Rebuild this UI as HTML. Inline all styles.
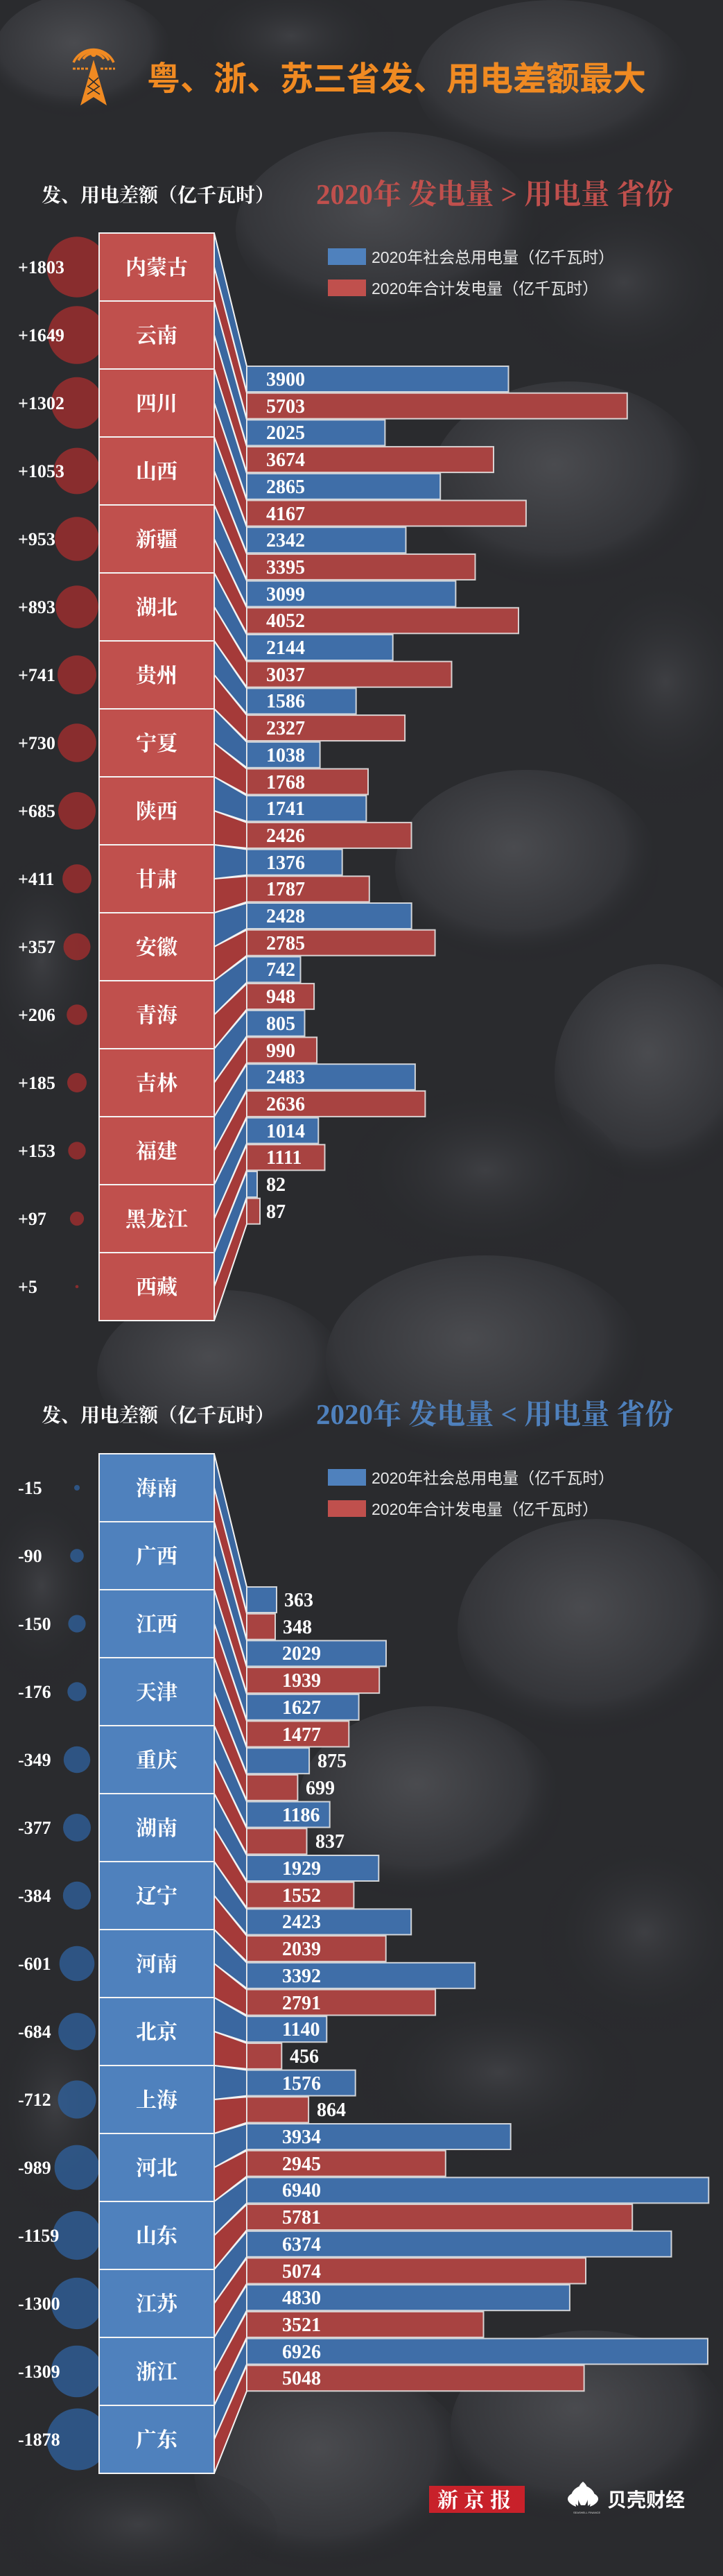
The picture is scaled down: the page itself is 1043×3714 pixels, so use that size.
<!DOCTYPE html>
<html><head><meta charset="utf-8">
<style>
html,body{margin:0;padding:0;background:#2c2d30;}
svg{display:block;}
.pv{font-family:"Liberation Serif","Noto Serif CJK SC",serif;font-weight:bold;font-size:30px;fill:#fff;text-anchor:middle;}
.df{font-family:"Liberation Serif",serif;font-weight:bold;font-size:26px;fill:#fff;}
.nm{font-family:"Liberation Serif",serif;font-weight:bold;font-size:28px;fill:#fff;}
.lg{font-family:"Liberation Sans","Noto Sans CJK SC",sans-serif;font-size:23px;fill:#e8e8e8;}
.hd{font-family:"Liberation Serif","Noto Serif CJK SC",serif;font-weight:bold;font-size:28px;fill:#fff;}
.st{font-family:"Liberation Serif","Noto Serif CJK SC",serif;font-weight:bold;font-size:41px;}
.bb{fill:#3f6ea8;stroke:rgba(235,235,235,0.85);stroke-width:2;}
.rb{fill:#a84341;stroke:rgba(235,235,235,0.85);stroke-width:2;}
.bn{fill:#3a67a0;stroke:#f2f2f2;stroke-width:2;}
.rn{fill:#a53a39;stroke:#f2f2f2;stroke-width:2;}
.rbox{fill:#c0504d;stroke:#f4f4f4;stroke-width:2;}
.bbox{fill:#4f81bd;stroke:#f4f4f4;stroke-width:2;}
.rc{fill:#9a2e2e;opacity:0.85;}
.bc{fill:#2f5f98;opacity:0.8;}
</style></head>
<body>
<svg width="1043" height="3714" viewBox="0 0 1043 3714" xmlns="http://www.w3.org/2000/svg">
<defs>
<radialGradient id="rk" cx="45%" cy="40%" r="60%">
<stop offset="0" stop-color="#4a4b4f"/><stop offset="0.7" stop-color="#35363a"/><stop offset="1" stop-color="#242528" stop-opacity="0"/>
</radialGradient>
<radialGradient id="rk2" cx="50%" cy="45%" r="55%">
<stop offset="0" stop-color="#3e3f43"/><stop offset="1" stop-color="#232427" stop-opacity="0"/>
</radialGradient>
</defs>
<rect width="1043" height="3714" fill="#2a2b2e"/>
<g>
<ellipse cx="120" cy="80" rx="130" ry="90" fill="url(#rk)"/>
<ellipse cx="420" cy="60" rx="150" ry="80" fill="url(#rk2)"/>
<ellipse cx="800" cy="120" rx="200" ry="120" fill="url(#rk)"/>
<ellipse cx="560" cy="330" rx="220" ry="140" fill="url(#rk)"/>
<ellipse cx="900" cy="420" rx="160" ry="130" fill="url(#rk2)"/>
<ellipse cx="820" cy="700" rx="200" ry="150" fill="url(#rk)"/>
<ellipse cx="960" cy="1000" rx="140" ry="170" fill="url(#rk2)"/>
<ellipse cx="760" cy="1250" rx="190" ry="140" fill="url(#rk)"/>
<ellipse cx="950" cy="1550" rx="150" ry="160" fill="url(#rk)"/>
<ellipse cx="700" cy="1700" rx="200" ry="130" fill="url(#rk2)"/>
<ellipse cx="320" cy="1980" rx="180" ry="120" fill="url(#rk)"/>
<ellipse cx="700" cy="1960" rx="230" ry="150" fill="url(#rk)"/>
<ellipse cx="60" cy="1400" rx="90" ry="160" fill="url(#rk2)"/>
<ellipse cx="60" cy="2300" rx="90" ry="140" fill="url(#rk2)"/>
<ellipse cx="860" cy="2350" rx="200" ry="160" fill="url(#rk)"/>
<ellipse cx="620" cy="2600" rx="190" ry="140" fill="url(#rk)"/>
<ellipse cx="930" cy="2800" rx="150" ry="140" fill="url(#rk2)"/>
<ellipse cx="720" cy="3000" rx="200" ry="120" fill="url(#rk2)"/>
<ellipse cx="80" cy="3050" rx="90" ry="150" fill="url(#rk2)"/>
<ellipse cx="480" cy="3560" rx="200" ry="150" fill="url(#rk)"/>
<ellipse cx="850" cy="3500" rx="200" ry="140" fill="url(#rk)"/>
<ellipse cx="200" cy="3650" rx="200" ry="100" fill="url(#rk2)"/>
</g>

<!-- icon -->
<g fill="none" stroke="#f08a22" stroke-width="3.5">
<path d="M120,85 A18,18 0 0 1 150,85"/>
<path d="M113,87 A25,25 0 0 1 157,87"/>
<path d="M106,90 A32,32 0 0 1 164,90"/>
</g>
<circle cx="135" cy="78" r="4" fill="#f08a22"/>
<g stroke="#f08a22" stroke-width="3" stroke-dasharray="4,2"><line x1="105" y1="99" x2="127" y2="99"/><line x1="145" y1="99" x2="166" y2="99"/></g>
<path d="M135,86 L154,152 L135,140 L116,152 Z" fill="#f08a22"/>
<g stroke="#2a2b2e" stroke-width="1.6"><line x1="128" y1="112" x2="142" y2="124"/><line x1="142" y1="112" x2="128" y2="124"/><line x1="126" y1="124" x2="144" y2="136"/><line x1="144" y1="124" x2="126" y2="136"/></g>
<text x="212" y="130" style="font-family:'Liberation Sans','Noto Sans CJK SC',sans-serif;font-weight:bold;font-size:48px;fill:#f08a22;">粤、浙、苏三省发、用电差额最大</text>

<!-- TOP SECTION -->
<text class="hd" x="60" y="291">发、用电差额（亿千瓦时）</text>
<text class="st" x="456" y="294" fill="#c0504d">2020年 发电量 &gt; 用电量 省份</text>
<rect x="473" y="358" width="55" height="24" fill="#4f81bd"/><text class="lg" x="536" y="379">2020年社会总用电量（亿千瓦时）</text>
<rect x="473" y="403" width="55" height="24" fill="#c0504d"/><text class="lg" x="536" y="424">2020年合计发电量（亿千瓦时）</text>

<g>
<circle class="rc" cx="111" cy="385" r="43.7"/><circle class="rc" cx="111" cy="483" r="41.8"/><circle class="rc" cx="111" cy="581" r="37.2"/><circle class="rc" cx="111" cy="679" r="33.4"/><circle class="rc" cx="111" cy="777" r="31.8"/><circle class="rc" cx="111" cy="875" r="30.8"/><circle class="rc" cx="111" cy="973" r="28"/><circle class="rc" cx="111" cy="1071" r="27.8"/><circle class="rc" cx="111" cy="1169" r="27"/><circle class="rc" cx="111" cy="1267" r="20.9"/><circle class="rc" cx="111" cy="1365" r="19.5"/><circle class="rc" cx="111" cy="1463" r="14.8"/><circle class="rc" cx="111" cy="1561" r="14"/><circle class="rc" cx="111" cy="1659" r="12.7"/><circle class="rc" cx="111" cy="1757" r="10.1"/><circle class="rc" cx="111" cy="1855" r="2.3"/>
</g>
<g>
<text class="df" x="26" y="394">+1803</text><text class="df" x="26" y="492">+1649</text><text class="df" x="26" y="590">+1302</text><text class="df" x="26" y="688">+1053</text><text class="df" x="26" y="786">+953</text><text class="df" x="26" y="884">+893</text><text class="df" x="26" y="982">+741</text><text class="df" x="26" y="1080">+730</text><text class="df" x="26" y="1178">+685</text><text class="df" x="26" y="1276">+411</text><text class="df" x="26" y="1374">+357</text><text class="df" x="26" y="1472">+206</text><text class="df" x="26" y="1570">+185</text><text class="df" x="26" y="1668">+153</text><text class="df" x="26" y="1766">+97</text><text class="df" x="26" y="1864">+5</text>
</g>
<g>
<rect class="rbox" x="143" y="336" width="166" height="98"/><rect class="rbox" x="143" y="434" width="166" height="98"/><rect class="rbox" x="143" y="532" width="166" height="98"/><rect class="rbox" x="143" y="630" width="166" height="98"/><rect class="rbox" x="143" y="728" width="166" height="98"/><rect class="rbox" x="143" y="826" width="166" height="98"/><rect class="rbox" x="143" y="924" width="166" height="98"/><rect class="rbox" x="143" y="1022" width="166" height="98"/><rect class="rbox" x="143" y="1120" width="166" height="98"/><rect class="rbox" x="143" y="1218" width="166" height="98"/><rect class="rbox" x="143" y="1316" width="166" height="98"/><rect class="rbox" x="143" y="1414" width="166" height="98"/><rect class="rbox" x="143" y="1512" width="166" height="98"/><rect class="rbox" x="143" y="1610" width="166" height="98"/><rect class="rbox" x="143" y="1708" width="166" height="98"/><rect class="rbox" x="143" y="1806" width="166" height="98"/>
</g>
<g>
<text class="pv" x="226" y="396">内蒙古</text><text class="pv" x="226" y="494">云南</text><text class="pv" x="226" y="592">四川</text><text class="pv" x="226" y="690">山西</text><text class="pv" x="226" y="788">新疆</text><text class="pv" x="226" y="886">湖北</text><text class="pv" x="226" y="984">贵州</text><text class="pv" x="226" y="1082">宁夏</text><text class="pv" x="226" y="1180">陕西</text><text class="pv" x="226" y="1278">甘肃</text><text class="pv" x="226" y="1376">安徽</text><text class="pv" x="226" y="1474">青海</text><text class="pv" x="226" y="1572">吉林</text><text class="pv" x="226" y="1670">福建</text><text class="pv" x="226" y="1768">黑龙江</text><text class="pv" x="226" y="1866">西藏</text>
</g>
<g>
<polygon class="bn" points="309,336 356,528 356,565 309,385"/><polygon class="rn" points="309,385 356,566.7 356,603.7 309,434"/>
<polygon class="bn" points="309,434 356,605.4 356,642.4 309,483"/><polygon class="rn" points="309,483 356,644.1 356,681.1 309,532"/>
<polygon class="bn" points="309,532 356,682.8 356,719.8 309,581"/><polygon class="rn" points="309,581 356,721.5 356,758.5 309,630"/>
<polygon class="bn" points="309,630 356,760.2 356,797.2 309,679"/><polygon class="rn" points="309,679 356,798.9 356,835.9 309,728"/>
<polygon class="bn" points="309,728 356,837.6 356,874.6 309,777"/><polygon class="rn" points="309,777 356,876.3 356,913.3 309,826"/>
<polygon class="bn" points="309,826 356,915 356,952 309,875"/><polygon class="rn" points="309,875 356,953.7 356,990.7 309,924"/>
<polygon class="bn" points="309,924 356,992.4 356,1029.4 309,973"/><polygon class="rn" points="309,973 356,1031.1 356,1068.1 309,1022"/>
<polygon class="bn" points="309,1022 356,1069.8 356,1106.8 309,1071"/><polygon class="rn" points="309,1071 356,1108.5 356,1145.5 309,1120"/>
<polygon class="bn" points="309,1120 356,1147.2 356,1184.2 309,1169"/><polygon class="rn" points="309,1169 356,1185.9 356,1222.9 309,1218"/>
<polygon class="bn" points="309,1218 356,1224.6 356,1261.6 309,1267"/><polygon class="rn" points="309,1267 356,1263.3 356,1300.3 309,1316"/>
<polygon class="bn" points="309,1316 356,1302 356,1339 309,1365"/><polygon class="rn" points="309,1365 356,1340.7 356,1377.7 309,1414"/>
<polygon class="bn" points="309,1414 356,1379.4 356,1416.4 309,1463"/><polygon class="rn" points="309,1463 356,1418.1 356,1455.1 309,1512"/>
<polygon class="bn" points="309,1512 356,1456.8 356,1493.8 309,1561"/><polygon class="rn" points="309,1561 356,1495.5 356,1532.5 309,1610"/>
<polygon class="bn" points="309,1610 356,1534.2 356,1571.2 309,1659"/><polygon class="rn" points="309,1659 356,1572.9 356,1609.9 309,1708"/>
<polygon class="bn" points="309,1708 356,1611.6 356,1648.6 309,1757"/><polygon class="rn" points="309,1757 356,1650.3 356,1687.3 309,1806"/>
<polygon class="bn" points="309,1806 356,1689 356,1726 309,1855"/><polygon class="rn" points="309,1855 356,1727.7 356,1764.7 309,1904"/>
</g>
<g>
<rect class="bb" x="356" y="528" width="377.5" height="37"/><rect class="rb" x="356" y="566.7" width="548.8" height="37"/>
<rect class="bb" x="356" y="605.4" width="199.4" height="37"/><rect class="rb" x="356" y="644.1" width="356" height="37"/>
<rect class="bb" x="356" y="682.8" width="279.2" height="37"/><rect class="rb" x="356" y="721.5" width="402.9" height="37"/>
<rect class="bb" x="356" y="760.2" width="229.5" height="37"/><rect class="rb" x="356" y="798.9" width="329.5" height="37"/>
<rect class="bb" x="356" y="837.6" width="301.4" height="37"/><rect class="rb" x="356" y="876.3" width="392" height="37"/>
<rect class="bb" x="356" y="915" width="210.7" height="37"/><rect class="rb" x="356" y="953.7" width="295.5" height="37"/>
<rect class="bb" x="356" y="992.4" width="157.7" height="37"/><rect class="rb" x="356" y="1031.1" width="228.1" height="37"/>
<rect class="bb" x="356" y="1069.8" width="105.6" height="37"/><rect class="rb" x="356" y="1108.5" width="175" height="37"/>
<rect class="bb" x="356" y="1147.2" width="172.4" height="37"/><rect class="rb" x="356" y="1185.9" width="237.5" height="37"/>
<rect class="bb" x="356" y="1224.6" width="137.7" height="37"/><rect class="rb" x="356" y="1263.3" width="176.8" height="37"/>
<rect class="bb" x="356" y="1302" width="237.7" height="37"/><rect class="rb" x="356" y="1340.7" width="271.6" height="37"/>
<rect class="bb" x="356" y="1379.4" width="77.5" height="37"/><rect class="rb" x="356" y="1418.1" width="97.1" height="37"/>
<rect class="bb" x="356" y="1456.8" width="83.5" height="37"/><rect class="rb" x="356" y="1495.5" width="101.1" height="37"/>
<rect class="bb" x="356" y="1534.2" width="242.9" height="37"/><rect class="rb" x="356" y="1572.9" width="257.4" height="37"/>
<rect class="bb" x="356" y="1611.6" width="103.3" height="37"/><rect class="rb" x="356" y="1650.3" width="112.5" height="37"/>
<rect class="bb" x="356" y="1689" width="15" height="37"/><rect class="rb" x="356" y="1727.7" width="19" height="37"/>
</g>
<g>
<text class="nm" x="384" y="556">3900</text><text class="nm" x="384" y="595">5703</text>
<text class="nm" x="384" y="633">2025</text><text class="nm" x="384" y="672">3674</text>
<text class="nm" x="384" y="711">2865</text><text class="nm" x="384" y="750">4167</text>
<text class="nm" x="384" y="788">2342</text><text class="nm" x="384" y="827">3395</text>
<text class="nm" x="384" y="866">3099</text><text class="nm" x="384" y="904">4052</text>
<text class="nm" x="384" y="943">2144</text><text class="nm" x="384" y="982">3037</text>
<text class="nm" x="384" y="1020">1586</text><text class="nm" x="384" y="1059">2327</text>
<text class="nm" x="384" y="1098">1038</text><text class="nm" x="384" y="1137">1768</text>
<text class="nm" x="384" y="1175">1741</text><text class="nm" x="384" y="1214">2426</text>
<text class="nm" x="384" y="1253">1376</text><text class="nm" x="384" y="1291">1787</text>
<text class="nm" x="384" y="1330">2428</text><text class="nm" x="384" y="1369">2785</text>
<text class="nm" x="384" y="1407">742</text><text class="nm" x="384" y="1446">948</text>
<text class="nm" x="384" y="1485">805</text><text class="nm" x="384" y="1524">990</text>
<text class="nm" x="384" y="1562">2483</text><text class="nm" x="384" y="1601">2636</text>
<text class="nm" x="384" y="1640">1014</text><text class="nm" x="384" y="1678">1111</text>
<text class="nm" x="384" y="1717">82</text><text class="nm" x="384" y="1756">87</text>
</g>

<!-- BOTTOM SECTION -->
<text class="hd" x="60" y="2050">发、用电差额（亿千瓦时）</text>
<text class="st" x="456" y="2053" fill="#4f81bd">2020年 发电量 &lt; 用电量 省份</text>
<rect x="473" y="2118" width="55" height="24" fill="#4f81bd"/><text class="lg" x="536" y="2139">2020年社会总用电量（亿千瓦时）</text>
<rect x="473" y="2163" width="55" height="24" fill="#c0504d"/><text class="lg" x="536" y="2184">2020年合计发电量（亿千瓦时）</text>

<g>
<circle class="bc" cx="111" cy="2145" r="4"/><circle class="bc" cx="111" cy="2243" r="9.8"/><circle class="bc" cx="111" cy="2341" r="12.6"/><circle class="bc" cx="111" cy="2439" r="13.7"/><circle class="bc" cx="111" cy="2537" r="19.2"/><circle class="bc" cx="111" cy="2635" r="20"/><circle class="bc" cx="111" cy="2733" r="20.2"/><circle class="bc" cx="111" cy="2831" r="25.3"/><circle class="bc" cx="111" cy="2929" r="26.9"/><circle class="bc" cx="111" cy="3027" r="27.5"/><circle class="bc" cx="111" cy="3125" r="32.4"/><circle class="bc" cx="111" cy="3223" r="35.1"/><circle class="bc" cx="111" cy="3321" r="37.1"/><circle class="bc" cx="111" cy="3419" r="37.3"/><circle class="bc" cx="112" cy="3517" r="44.6"/>
</g>
<g>
<text class="df" x="26" y="2154">-15</text><text class="df" x="26" y="2252">-90</text><text class="df" x="26" y="2350">-150</text><text class="df" x="26" y="2448">-176</text><text class="df" x="26" y="2546">-349</text><text class="df" x="26" y="2644">-377</text><text class="df" x="26" y="2742">-384</text><text class="df" x="26" y="2840">-601</text><text class="df" x="26" y="2938">-684</text><text class="df" x="26" y="3036">-712</text><text class="df" x="26" y="3134">-989</text><text class="df" x="26" y="3232">-1159</text><text class="df" x="26" y="3330">-1300</text><text class="df" x="26" y="3428">-1309</text><text class="df" x="26" y="3526">-1878</text>
</g>
<g>
<rect class="bbox" x="143" y="2096" width="166" height="98"/><rect class="bbox" x="143" y="2194" width="166" height="98"/><rect class="bbox" x="143" y="2292" width="166" height="98"/><rect class="bbox" x="143" y="2390" width="166" height="98"/><rect class="bbox" x="143" y="2488" width="166" height="98"/><rect class="bbox" x="143" y="2586" width="166" height="98"/><rect class="bbox" x="143" y="2684" width="166" height="98"/><rect class="bbox" x="143" y="2782" width="166" height="98"/><rect class="bbox" x="143" y="2880" width="166" height="98"/><rect class="bbox" x="143" y="2978" width="166" height="98"/><rect class="bbox" x="143" y="3076" width="166" height="98"/><rect class="bbox" x="143" y="3174" width="166" height="98"/><rect class="bbox" x="143" y="3272" width="166" height="98"/><rect class="bbox" x="143" y="3370" width="166" height="98"/><rect class="bbox" x="143" y="3468" width="166" height="98"/>
</g>
<g>
<text class="pv" x="226" y="2156">海南</text><text class="pv" x="226" y="2254">广西</text><text class="pv" x="226" y="2352">江西</text><text class="pv" x="226" y="2450">天津</text><text class="pv" x="226" y="2548">重庆</text><text class="pv" x="226" y="2646">湖南</text><text class="pv" x="226" y="2744">辽宁</text><text class="pv" x="226" y="2842">河南</text><text class="pv" x="226" y="2940">北京</text><text class="pv" x="226" y="3038">上海</text><text class="pv" x="226" y="3136">河北</text><text class="pv" x="226" y="3234">山东</text><text class="pv" x="226" y="3332">江苏</text><text class="pv" x="226" y="3430">浙江</text><text class="pv" x="226" y="3528">广东</text>
</g>
<g>
<polygon class="bn" points="309,2096 356,2288 356,2325 309,2145"/><polygon class="rn" points="309,2145 356,2326.7 356,2363.7 309,2194"/>
<polygon class="bn" points="309,2194 356,2365.4 356,2402.4 309,2243"/><polygon class="rn" points="309,2243 356,2404.1 356,2441.1 309,2292"/>
<polygon class="bn" points="309,2292 356,2442.8 356,2479.8 309,2341"/><polygon class="rn" points="309,2341 356,2481.5 356,2518.5 309,2390"/>
<polygon class="bn" points="309,2390 356,2520.2 356,2557.2 309,2439"/><polygon class="rn" points="309,2439 356,2558.9 356,2595.9 309,2488"/>
<polygon class="bn" points="309,2488 356,2597.6 356,2634.6 309,2537"/><polygon class="rn" points="309,2537 356,2636.3 356,2673.3 309,2586"/>
<polygon class="bn" points="309,2586 356,2675 356,2712 309,2635"/><polygon class="rn" points="309,2635 356,2713.7 356,2750.7 309,2684"/>
<polygon class="bn" points="309,2684 356,2752.4 356,2789.4 309,2733"/><polygon class="rn" points="309,2733 356,2791.1 356,2828.1 309,2782"/>
<polygon class="bn" points="309,2782 356,2829.8 356,2866.8 309,2831"/><polygon class="rn" points="309,2831 356,2868.5 356,2905.5 309,2880"/>
<polygon class="bn" points="309,2880 356,2907.2 356,2944.2 309,2929"/><polygon class="rn" points="309,2929 356,2945.9 356,2982.9 309,2978"/>
<polygon class="bn" points="309,2978 356,2984.6 356,3021.6 309,3027"/><polygon class="rn" points="309,3027 356,3023.3 356,3060.3 309,3076"/>
<polygon class="bn" points="309,3076 356,3062 356,3099 309,3125"/><polygon class="rn" points="309,3125 356,3100.7 356,3137.7 309,3174"/>
<polygon class="bn" points="309,3174 356,3139.4 356,3176.4 309,3223"/><polygon class="rn" points="309,3223 356,3178.1 356,3215.1 309,3272"/>
<polygon class="bn" points="309,3272 356,3216.8 356,3253.8 309,3321"/><polygon class="rn" points="309,3321 356,3255.5 356,3292.5 309,3370"/>
<polygon class="bn" points="309,3370 356,3294.2 356,3331.2 309,3419"/><polygon class="rn" points="309,3419 356,3332.9 356,3369.9 309,3468"/>
<polygon class="bn" points="309,3468 356,3371.6 356,3408.6 309,3517"/><polygon class="rn" points="309,3517 356,3410.3 356,3447.3 309,3566"/>
</g>
<g>
<rect class="bb" x="356" y="2288" width="43" height="37"/><rect class="rb" x="356" y="2326.7" width="41" height="37"/>
<rect class="bb" x="356" y="2365.4" width="201" height="37"/><rect class="rb" x="356" y="2404.1" width="191.2" height="37"/>
<rect class="bb" x="356" y="2442.8" width="161.6" height="37"/><rect class="rb" x="356" y="2481.5" width="147.3" height="37"/>
<rect class="bb" x="356" y="2520.2" width="90.1" height="37"/><rect class="rb" x="356" y="2558.9" width="73.4" height="37"/>
<rect class="bb" x="356" y="2597.6" width="119.7" height="37"/><rect class="rb" x="356" y="2636.3" width="86.5" height="37"/>
<rect class="bb" x="356" y="2675" width="190.3" height="37"/><rect class="rb" x="356" y="2713.7" width="154.4" height="37"/>
<rect class="bb" x="356" y="2752.4" width="237.2" height="37"/><rect class="rb" x="356" y="2791.1" width="200.7" height="37"/>
<rect class="bb" x="356" y="2829.8" width="329.2" height="37"/><rect class="rb" x="356" y="2868.5" width="272.1" height="37"/>
<rect class="bb" x="356" y="2907.2" width="115.3" height="37"/><rect class="rb" x="356" y="2945.9" width="50.3" height="37"/>
<rect class="bb" x="356" y="2984.6" width="156.7" height="37"/><rect class="rb" x="356" y="3023.3" width="89.1" height="37"/>
<rect class="bb" x="356" y="3062" width="380.7" height="37"/><rect class="rb" x="356" y="3100.7" width="286.8" height="37"/>
<rect class="bb" x="356" y="3139.4" width="666.3" height="37"/><rect class="rb" x="356" y="3178.1" width="556.2" height="37"/>
<rect class="bb" x="356" y="3216.8" width="612.5" height="37"/><rect class="rb" x="356" y="3255.5" width="489" height="37"/>
<rect class="bb" x="356" y="3294.2" width="465.9" height="37"/><rect class="rb" x="356" y="3332.9" width="341.5" height="37"/>
<rect class="bb" x="356" y="3371.6" width="665" height="37"/><rect class="rb" x="356" y="3410.3" width="486.6" height="37"/>
</g>
<g>
<text class="nm" x="410" y="2316">363</text><text class="nm" x="408" y="2355">348</text>
<text class="nm" x="407" y="2393">2029</text><text class="nm" x="407" y="2432">1939</text>
<text class="nm" x="407" y="2471">1627</text><text class="nm" x="407" y="2510">1477</text>
<text class="nm" x="458" y="2548">875</text><text class="nm" x="441" y="2587">699</text>
<text class="nm" x="407" y="2626">1186</text><text class="nm" x="455" y="2664">837</text>
<text class="nm" x="407" y="2703">1929</text><text class="nm" x="407" y="2742">1552</text>
<text class="nm" x="407" y="2780">2423</text><text class="nm" x="407" y="2819">2039</text>
<text class="nm" x="407" y="2858">3392</text><text class="nm" x="407" y="2897">2791</text>
<text class="nm" x="407" y="2935">1140</text><text class="nm" x="418" y="2974">456</text>
<text class="nm" x="407" y="3013">1576</text><text class="nm" x="457" y="3051">864</text>
<text class="nm" x="407" y="3090">3934</text><text class="nm" x="407" y="3129">2945</text>
<text class="nm" x="407" y="3167">6940</text><text class="nm" x="407" y="3206">5781</text>
<text class="nm" x="407" y="3245">6374</text><text class="nm" x="407" y="3284">5074</text>
<text class="nm" x="407" y="3322">4830</text><text class="nm" x="407" y="3361">3521</text>
<text class="nm" x="407" y="3400">6926</text><text class="nm" x="407" y="3438">5048</text>
</g>

<!-- logos -->
<rect x="619" y="3584" width="138" height="39" fill="#c8212a"/>
<text x="688" y="3615" text-anchor="middle" style="font-family:'Liberation Serif','Noto Serif CJK SC',serif;font-weight:bold;font-size:30px;fill:#fff;letter-spacing:8px;">新京报</text>
<g fill="#fff">
<path d="M841,3578 C833,3584 829,3598 838,3612 L842,3612 L841,3578 Z"/>
<path d="M841,3578 C849,3584 853,3598 844,3612 L840,3612 Z"/>
<path d="M835,3585 C824,3590 818,3602 834,3613 Z"/>
<path d="M847,3585 C858,3590 864,3602 848,3613 Z"/>
<path d="M828,3594 C816,3598 815,3608 831,3614 Z"/>
<path d="M854,3594 C866,3598 867,3608 851,3614 Z"/>
</g>
<text x="827" y="3624" style="font-family:'Liberation Sans',sans-serif;font-size:4px;fill:#ddd;">SEASHELL FINANCE</text>
<text x="876" y="3614" style="font-family:'Liberation Sans','Noto Sans CJK SC',sans-serif;font-weight:bold;font-size:28px;fill:#fff;">贝壳财经</text>
</svg>
</body></html>
